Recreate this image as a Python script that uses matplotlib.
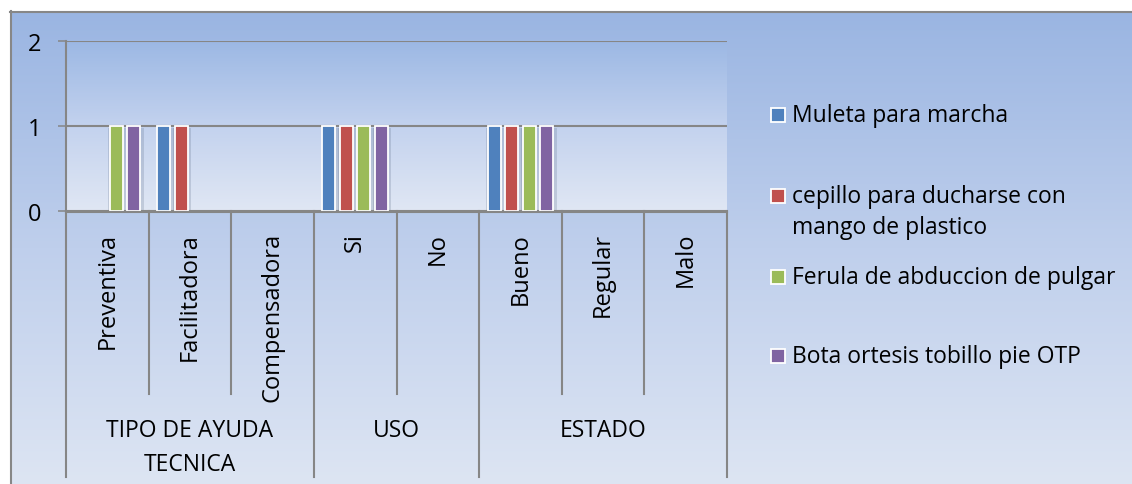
import numpy as np
import matplotlib.pyplot as plt
import matplotlib.transforms as mtransforms
from matplotlib.patches import Rectangle
from matplotlib.colors import LinearSegmentedColormap

plt.rcParams['font.family'] = ['Open Sans', 'DejaVu Sans']

categorias = ["Preventiva", "Facilitadora", "Compensadora", "Si", "No",
              "Bueno", "Regular", "Malo"]
grupos = ["TIPO DE AYUDA\nTECNICA", "USO", "ESTADO"]
tam_grupos = [3, 2, 3]

series = ["Muleta para marcha",
          "cepillo para ducharse con\nmango de plastico",
          "Ferula de abduccion de pulgar",
          "Bota ortesis tobillo pie OTP"]
muleta = [0, 1, 0, 1, 0, 1, 0, 0]
cepillo = [0, 1, 0, 1, 0, 1, 0, 0]
ferula = [1, 0, 0, 1, 0, 1, 0, 0]
bota = [1, 0, 0, 1, 0, 1, 0, 0]
valores = [muleta, cepillo, ferula, bota]
colores = ["#4F81BD", "#C0504D", "#9BBB59", "#8064A2"]

W, H = 1132, 485
fig = plt.figure(figsize=(W / 100, H / 100), dpi=100)
fig.patch.set_facecolor("white")

# fondo degradado del grafico
fondo = fig.add_axes([0, 0, 1, 1], zorder=-10)
fondo.set_xlim(0, W)
fondo.set_ylim(H, 0)
fondo.axis("off")
cm_fondo = LinearSegmentedColormap.from_list("f", ["#9AB5E2", "#BFCFEC", "#DDE5F3"])
fondo.imshow(np.linspace(0, 1, 256).reshape(-1, 1), cmap=cm_fondo, aspect="auto",
             extent=[10, W, H, 12], interpolation="bicubic")
fondo.plot([10, W], [12.5, 12.5], color="#878787", lw=1.5)
fondo.plot([10.5, 10.5], [12, H], color="#878787", lw=1.5)

gris = "#868686"
ax = fig.add_axes([66 / W, (H - 212) / H, 661 / W, 170 / H])
ax.patch.set_visible(False)
cm_area = LinearSegmentedColormap.from_list("a", ["#9CB8E4", "#C3D2EE", "#E0E7F4"])
ax.imshow(np.linspace(0, 1, 256).reshape(-1, 1), cmap=cm_area, aspect="auto",
          extent=[-0.5, 7.5, 0, 2], interpolation="bicubic", zorder=0)
ax.set_xlim(-0.5, 7.5)
ax.set_ylim(0, 2)

for s in ["top", "right", "bottom"]:
    ax.spines[s].set_visible(False)
ax.spines["left"].set_color(gris)
ax.spines["left"].set_linewidth(1.5)
ax.set_yticks([0, 1, 2])
ax.set_yticklabels(["0", "1", "2"], fontsize=17)
ax.tick_params(axis="y", length=6, width=1.1, color=gris, pad=12)
ax.set_xticks([])
ax.yaxis.grid(True, color=gris, lw=1.5)
ax.set_axisbelow(False)
for g in ax.get_ygridlines():
    g.set_zorder(1)

x = np.arange(len(categorias))
paso = 0.212
ancho = 0.158
for i, (vals, col) in enumerate(zip(valores, colores)):
    pos = x + (i - 1.5) * paso
    bordes = ["white" if v else "none" for v in vals]
    ax.bar(pos + 0.012, vals, ancho + 0.06, bottom=-0.02, color="#5b6b85",
           alpha=0.22, lw=0, zorder=2, clip_on=False)
    ax.bar(pos, vals, ancho, color=col, edgecolor=bordes, lw=1.3, zorder=3)

# eje de categorias de dos niveles
tr = mtransforms.blended_transform_factory(ax.transData, fig.transFigure)
def fy(p):
    return (H - p) / H

ax.plot([-0.5, 7.5], [fy(212.5), fy(212.5)], color=gris, lw=1.5,
        transform=tr, clip_on=False, zorder=4)
limites = np.concatenate([[0], np.cumsum(tam_grupos)]) - 0.5
for b in np.arange(-0.5, 8.0, 1.0):
    fin = 478 if b in limites else 395
    ax.plot([b, b], [fy(212), fy(fin)], color=gris, lw=1.5, transform=tr,
            clip_on=False)
for i, c in enumerate(categorias):
    ax.text(i, fy(233), c, rotation=90, ha="center", va="top", fontsize=17,
            transform=tr)
for g, a, b in zip(grupos, limites[:-1], limites[1:]):
    ax.text((a + b) / 2, fy(419), g, ha="center", va="top", fontsize=16.5,
            linespacing=1.55, transform=tr)

# leyenda
ley_y = [116, 197, 278, 357]
for nombre, col, yy in zip(series, colores, ley_y):
    fondo.add_patch(Rectangle((770.5, yy - 7), 14, 14, facecolor=col,
                              edgecolor="white", lw=1.3))
    fondo.text(792, yy, nombre.split("\n")[0], fontsize=16.5, va="center", ha="left")
    if "\n" in nombre:
        fondo.text(792, yy + 31.5, nombre.split("\n")[1], fontsize=16.5,
                   va="center", ha="left")

fig.savefig("out.png", dpi=100)
